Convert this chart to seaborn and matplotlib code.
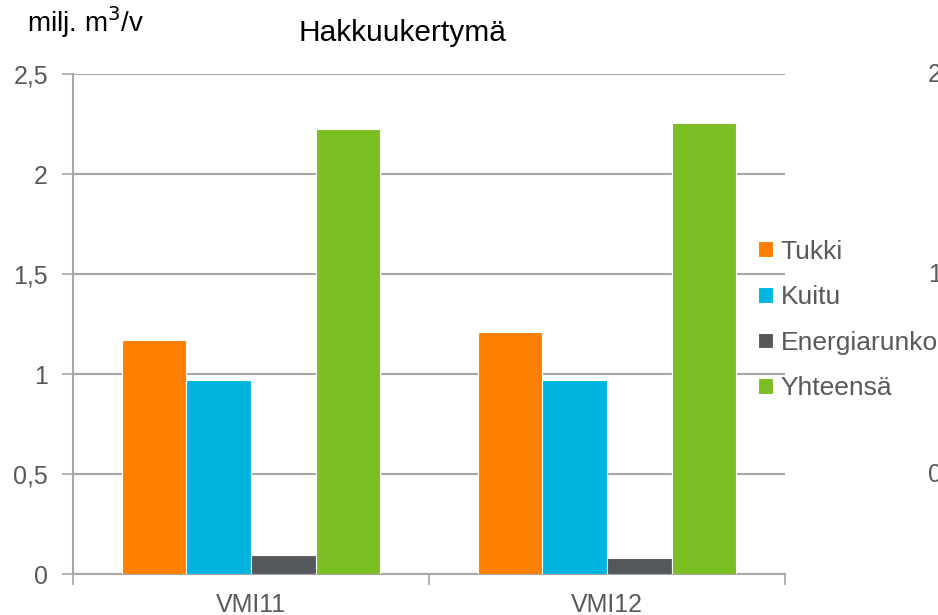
import matplotlib
matplotlib.use("Agg")
import matplotlib.pyplot as plt
import seaborn as sns
import pandas as pd

categories = ["VMI11", "VMI12"]
series = ["Tukki", "Kuitu", "Energiarunko", "Yhteensä"]
tukki = [1.17, 1.21]
kuitu = [0.968, 0.97]
energia = [0.095, 0.08]
yhteensa = [2.225, 2.255]
yticks = [0, 0.5, 1, 1.5, 2, 2.5]
ytick_labels = ["0", "0,5", "1", "1,5", "2", "2,5"]
colors = ["#FF8000", "#00B4E0", "#54585A", "#7ABE22"]

values = [tukki, kuitu, energia, yhteensa]
rows = []
for s, vals in zip(series, values):
    for c, v in zip(categories, vals):
        rows.append({"VMI": c, "laji": s, "arvo": v})
df = pd.DataFrame(rows)

sns.set_theme(style="white")
plt.rcParams["font.family"] = ["Liberation Sans", "DejaVu Sans"]

fig = plt.figure(figsize=(9.38, 6.15), dpi=100)
ax = fig.add_axes([73/938, 1-574/615, (785-73)/938, (574-74)/615])

sns.barplot(data=df, x="VMI", y="arvo", hue="laji", order=categories,
            hue_order=series, palette=colors, saturation=1, width=0.725,
            dodge=True, edgecolor="white", linewidth=0.8, ax=ax,
            legend=True, zorder=3)

grid_c = "#A6A6A6"
txt_c = "#595959"
ax.set_ylim(0, 2.5)
ax.set_xlim(-0.5, 1.5)
ax.set_yticks(yticks)
ax.set_yticklabels(ytick_labels)
ax.yaxis.grid(True, color=grid_c, linewidth=1.5, zorder=0)
ax.set_axisbelow(True)
ax.set_xlabel("")
ax.set_ylabel("")
for sp in ["top", "right"]:
    ax.spines[sp].set_visible(False)
for sp in ["left", "bottom"]:
    ax.spines[sp].set_color(grid_c)
    ax.spines[sp].set_linewidth(1.5)
ax.tick_params(axis="y", which="major", length=8, width=1.2, color=grid_c,
               labelsize=18, labelcolor=txt_c, pad=10, left=True)
ax.tick_params(axis="x", which="major", length=0, labelsize=18,
               labelcolor=txt_c, pad=14)
ax.set_xticks([-0.5, 0.5, 1.5], minor=True)
ax.tick_params(axis="x", which="minor", length=8, width=1.2, color=grid_c,
               bottom=True, direction="out")

leg = ax.legend(loc="center left", bbox_to_anchor=(758/938, 1-320/615),
                bbox_transform=fig.transFigure, frameon=False, fontsize=19,
                handlelength=0.55, handleheight=0.55, handletextpad=0.3,
                labelspacing=0.82, borderpad=0, borderaxespad=0)
for t in leg.get_texts():
    t.set_color(txt_c)

fig.text(27/938, 1-22/615, "milj. m$^3$/v", fontsize=20, color="black",
         va="center", ha="left")
fig.text(298/938, 1-33/615, "Hakkuukertymä", fontsize=21.5, color="black",
         va="center", ha="left")

# partial neighbouring chart axis labels at right edge
for yy, lab in [(75, "2"), (275, "1"), (475, "0")]:
    fig.text(928/938, 1-yy/615, lab, fontsize=18, color=txt_c,
             va="center", ha="left")

fig.savefig("out.png", dpi=100)
